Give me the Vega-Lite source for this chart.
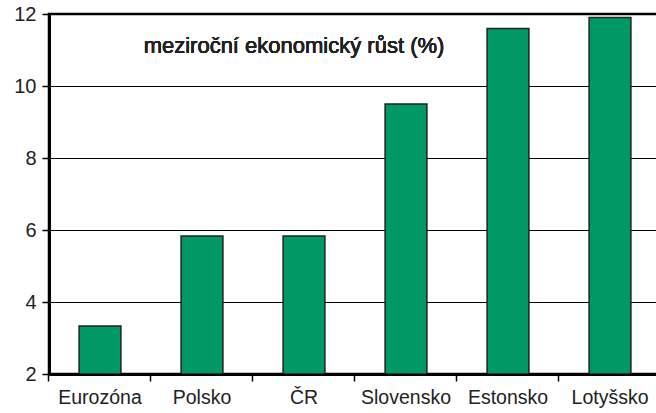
{
  "$schema": "https://vega.github.io/schema/vega-lite/v6.json",
  "width": 612,
  "height": 360,
  "autosize": "none",
  "padding": {"left": 49, "top": 14, "right": 0, "bottom": 39},
  "background": "white",
  "config": {
    "view": {"stroke": "black", "strokeWidth": 2.5},
    "font": "Liberation Sans"
  },
  "data": {
    "values": [
      {"zeme": "Eurozóna", "rust": 3.33},
      {"zeme": "Polsko", "rust": 5.83},
      {"zeme": "ČR", "rust": 5.83},
      {"zeme": "Slovensko", "rust": 9.5},
      {"zeme": "Estonsko", "rust": 11.6},
      {"zeme": "Lotyšsko", "rust": 11.9}
    ]
  },
  "layer": [
    {
      "mark": {"type": "bar", "fill": "#009966", "stroke": "#222222", "strokeWidth": 1.5, "clip": true},
      "encoding": {
        "x": {
          "field": "zeme", "type": "nominal", "sort": null,
          "scale": {"paddingInner": 0.59, "paddingOuter": 0.295},
          "axis": {"title": null, "labelAngle": 0, "ticks": true, "bandPosition": -0.72, "tickColor": "black", "tickSize": 7, "tickWidth": 1.5, "tickOpacity": 1,
                   "domain": true, "domainColor": "black", "domainWidth": 3,
                   "labelFontSize": 19.5, "labelColor": "#222222", "labelPadding": 7, "grid": false}
        },
        "y": {
          "field": "rust", "type": "quantitative",
          "scale": {"domain": [2, 12], "nice": false, "zero": false},
          "axis": {"title": null, "values": [2, 4, 6, 8, 10, 12], "grid": true, "gridColor": "black", "gridWidth": 1, "gridOpacity": 1,
                   "domainColor": "black", "domainWidth": 3, "ticks": true, "tickColor": "black", "tickSize": 7, "tickWidth": 1.5, "tickOpacity": 1,
                   "labelFontSize": 20, "labelColor": "#222222", "labelPadding": 6}
        },
        "y2": {"datum": 2}
      }
    },
    {
      "mark": {"type": "text", "fontSize": 22, "fontWeight": 400, "fill": "#222222", "strokeWidth": 0, "align": "center", "baseline": "middle", "dx": -10},
      "encoding": {
        "x": {"datum": "ČR", "type": "nominal", "sort": null},
        "y": {"datum": 11.1, "type": "quantitative"},
        "text": {"value": "meziroční ekonomický růst (%)"}
      }
    }
  ]
}
